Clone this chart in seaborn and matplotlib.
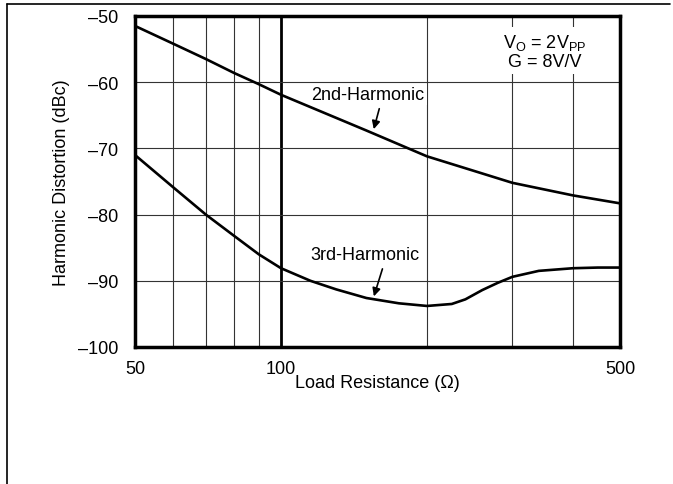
import matplotlib
matplotlib.use("Agg")
import matplotlib.pyplot as plt
import seaborn as sns
import pandas as pd
from matplotlib.lines import Line2D

# ---- data ----
r_2nd = [50, 60, 70, 80, 90, 100, 150, 200, 250, 300, 400, 500]
hd_2nd = [-51.5, -54.2, -56.5, -58.6, -60.3, -61.9, -67.3, -71.2, -73.4, -75.2, -77.1, -78.3]

r_3rd = [50, 60, 70, 80, 90, 100, 115, 130, 150, 175, 200, 225, 240, 260, 280, 300, 340, 400, 450, 500]
hd_3rd = [-71.0, -75.9, -80.0, -83.2, -86.0, -88.1, -90.0, -91.3, -92.6, -93.4, -93.8, -93.5,
          -92.8, -91.4, -90.3, -89.4, -88.5, -88.1, -88.0, -88.0]

x_major = [50, 100, 500]
x_major_labels = ["50", "100", "500"]
x_minor = [60, 70, 80, 90, 200, 300, 400]
y_ticks = [-100, -90, -80, -70, -60, -50]

sns.set_theme(style="white")
plt.rcParams["font.family"] = ["Liberation Sans", "DejaVu Sans"]
plt.rcParams["mathtext.fontset"] = "custom"
plt.rcParams["mathtext.rm"] = "Liberation Sans"
plt.rcParams["text.color"] = "black"
plt.rcParams["axes.labelcolor"] = "black"

FS = 13

fig = plt.figure(figsize=(6.73, 4.85), dpi=100)
ax = fig.add_axes([135 / 673, 1 - 348 / 485, 485 / 673, 331 / 485])

df2 = pd.DataFrame({"R": r_2nd, "HD": hd_2nd})
df3 = pd.DataFrame({"R": r_3rd, "HD": hd_3rd})
sns.lineplot(data=df2, x="R", y="HD", ax=ax, color="black", lw=1.9, zorder=5,
             solid_joinstyle="round", solid_capstyle="round")
sns.lineplot(data=df3, x="R", y="HD", ax=ax, color="black", lw=1.9, zorder=5,
             solid_joinstyle="round", solid_capstyle="round")

ax.set_xscale("log")
ax.set_xlim(50, 500)
ax.set_ylim(-100, -50)
ax.set_xticks(x_major)
ax.set_xticklabels(x_major_labels)
ax.set_xticks(x_minor, minor=True)
ax.set_xticklabels([], minor=True)
ax.set_yticks(y_ticks)
ax.set_yticklabels(["\u2013" + str(abs(v)) for v in y_ticks])
ax.tick_params(axis="both", which="both", length=0, labelsize=FS, colors="black")
ax.tick_params(axis="y", pad=12)
ax.tick_params(axis="x", pad=9)

ax.grid(True, which="major", axis="x", color="black", lw=2.0)
ax.grid(True, which="minor", axis="x", color="#333333", lw=0.8)
ax.grid(True, which="major", axis="y", color="#333333", lw=0.8)
ax.set_axisbelow(True)

for s in ax.spines.values():
    s.set_visible(True)
    s.set_color("black")
    s.set_linewidth(2.5)
    s.set_zorder(6)

ax.set_xlabel("Load Resistance (\u03a9)", fontsize=FS, color="black")
ax.set_ylabel("Harmonic Distortion (dBc)", fontsize=FS, color="black")
ax.xaxis.set_label_coords(0.5, -0.082)
ax.yaxis.set_label_coords(-0.135, 0.5)

box = dict(facecolor="white", edgecolor="none", pad=1.5)
ax.text(151, -61.9, "2nd-Harmonic", ha="center", va="center", fontsize=FS, bbox=box, zorder=4)
ax.annotate("", xy=(154.8, -67.5), xytext=(160, -63.6),
            arrowprops=dict(arrowstyle="-|>", color="black", lw=1.2, mutation_scale=12), zorder=7)
ax.text(149, -86.1, "3rd-Harmonic", ha="center", va="center", fontsize=FS, bbox=box, zorder=4)
ax.annotate("", xy=(154.8, -92.75), xytext=(162.5, -87.8),
            arrowprops=dict(arrowstyle="-|>", color="black", lw=1.2, mutation_scale=12), zorder=7)
ax.text(350, -55.3, "V$_\\mathregular{O}$ = 2V$_\\mathregular{PP}$\nG = 8V/V", ha="center", va="center",
        fontsize=FS, linespacing=1.05, bbox=dict(facecolor="white", edgecolor="none", pad=3), zorder=4)

# outer frame lines of the figure
fig.add_artist(Line2D([7 / 673, 7 / 673], [0, 1 - 5 / 485], color="black", lw=1.2, transform=fig.transFigure))
fig.add_artist(Line2D([7 / 673, 670 / 673], [1 - 5 / 485, 1 - 5 / 485], color="black", lw=1.2, transform=fig.transFigure))

fig.savefig("out.png", dpi=100, facecolor="white")
